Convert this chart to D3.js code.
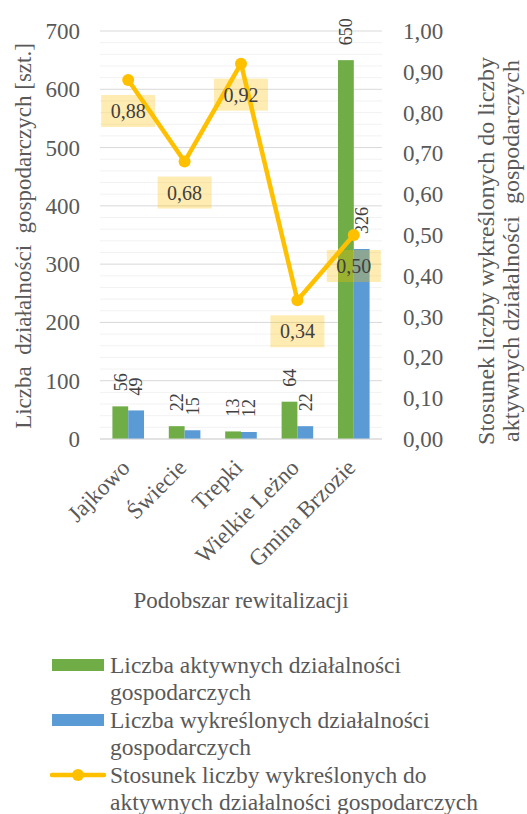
<!DOCTYPE html>
<html>
	<head>
		<meta charset="utf-8" />
		<script src="https://cdn.jsdelivr.net/npm/d3@7"></script>
		<style type="text/css">

html, body {
  margin: 0;
  padding: 0;
  background: #ffffff;
}

#chart text {
  font-family: "Liberation Serif", "Times New Roman", serif;
  fill: #595959;
}

#chart .grid-major {
  stroke: #d9d9d9;
  stroke-width: 1;
}

#chart .grid-minor {
  stroke: #f2f2f2;
  stroke-width: 1;
}
		</style>
	</head>

	<body>
		<div id="chart"></div>
		<script type="text/javascript">
var categories = ['Jajkowo', 'Świecie', 'Trepki', 'Wielkie Leżno', 'Gmina Brzozie'];
var active = [56, 22, 13, 64, 650];
var removed = [49, 15, 12, 22, 326];
var ratio = [0.88, 0.68, 0.92, 0.34, 0.50];

var leftTicks = [0, 100, 200, 300, 400, 500, 600, 700];
var rightTicks = [0, 0.1, 0.2, 0.3, 0.4, 0.5, 0.6, 0.7, 0.8, 0.9, 1.0];

var seriesNames = [
	'Liczba aktywnych działalności gospodarczych',
	'Liczba wykreślonych działalności gospodarczych',
	'Stosunek liczby wykreślonych do aktywnych działalności gospodarczych'
];

var green = '#70AD47', blue = '#5B9BD5', gold = '#FFC000';
var fmt = function(v) { return d3.format('.2f')(v).replace('.', ','); };

var width = 527, height = 814;
var plotLeft = 100, plotRight = 382, plotTop = 31, plotBottom = 439;
var fs = '23px';

var svg = d3.select('#chart').append('svg')
	.attr('width', width)
	.attr('height', height);

var x = d3.scaleBand().domain(categories).range([plotLeft, plotRight]).padding(0);
var groupW = x.bandwidth() * 0.56;
var x1 = d3.scaleBand().domain(['a', 'r']).range([0, groupW]);
var y = d3.scaleLinear().domain([0, 700]).range([plotBottom, plotTop]);
var y2 = d3.scaleLinear().domain([0, 1]).range([plotBottom, plotTop]);

// gridlines: minor every 20, major every 100
svg.append('g').selectAll('line')
	.data(d3.range(20, 700, 20).filter(function(v) { return v % 100 !== 0; }))
	.enter().append('line')
	.attr('class', 'grid-minor')
	.attr('x1', plotLeft).attr('x2', plotRight)
	.attr('y1', function(d) { return y(d); })
	.attr('y2', function(d) { return y(d); });

svg.append('g').selectAll('line')
	.data(leftTicks)
	.enter().append('line')
	.attr('class', 'grid-major')
	.attr('x1', plotLeft).attr('x2', plotRight)
	.attr('y1', function(d) { return y(d); })
	.attr('y2', function(d) { return y(d); });

// tick labels
svg.append('g').selectAll('text')
	.data(leftTicks)
	.enter().append('text')
	.attr('x', 80)
	.attr('y', function(d) { return y(d); })
	.attr('dy', '0.35em')
	.attr('text-anchor', 'end')
	.style('font-size', fs)
	.text(function(d) { return d; });

svg.append('g').selectAll('text')
	.data(rightTicks)
	.enter().append('text')
	.attr('x', 403)
	.attr('y', function(d) { return y2(d); })
	.attr('dy', '0.35em')
	.style('font-size', fs)
	.text(fmt);

// bars
var groups = svg.append('g').selectAll('g')
	.data(categories)
	.enter().append('g')
	.attr('transform', function(d) { return 'translate(' + (x(d) + (x.bandwidth() - groupW) / 2) + ',0)'; });

var barData = function(d, i) {
	return [
		{ key: 'a', value: active[i], color: green },
		{ key: 'r', value: removed[i], color: blue }
	];
};

groups.selectAll('rect')
	.data(barData)
	.enter().append('rect')
	.attr('x', function(d) { return x1(d.key); })
	.attr('y', function(d) { return y(d.value); })
	.attr('width', x1.bandwidth())
	.attr('height', function(d) { return plotBottom - y(d.value); })
	.attr('fill', function(d) { return d.color; });

groups.selectAll('text')
	.data(barData)
	.enter().append('text')
	.attr('transform', function(d) {
		return 'translate(' + (x1(d.key) + x1.bandwidth() / 2) + ',' + (y(d.value) - 15) + ') rotate(-90)';
	})
	.attr('dy', '0.35em')
	.style('font-size', '18px')
	.style('fill', '#404040')
	.text(function(d) { return d.value; });

// axis line
svg.append('line')
	.attr('x1', plotLeft).attr('x2', plotRight)
	.attr('y1', plotBottom).attr('y2', plotBottom)
	.attr('stroke', '#d9d9d9');

// ratio line
var cx = function(d, i) { return x(categories[i]) + x.bandwidth() / 2; };

svg.append('path')
	.datum(ratio)
	.attr('fill', 'none')
	.attr('stroke', gold)
	.attr('stroke-width', 4.5)
	.attr('stroke-linejoin', 'round')
	.attr('d', d3.line().x(cx).y(function(d) { return y2(d); }));

svg.append('g').selectAll('circle')
	.data(ratio)
	.enter().append('circle')
	.attr('cx', cx)
	.attr('cy', function(d) { return y2(d); })
	.attr('r', 6)
	.attr('fill', gold);

var lbl = svg.append('g').selectAll('g')
	.data(ratio)
	.enter().append('g')
	.attr('transform', function(d, i) { return 'translate(' + cx(d, i) + ',' + (y2(d) + 31) + ')'; });

lbl.append('rect')
	.attr('x', -27).attr('y', -16)
	.attr('width', 54).attr('height', 32)
	.attr('fill', gold)
	.attr('fill-opacity', 0.3);

lbl.append('text')
	.attr('text-anchor', 'middle')
	.attr('dy', '0.35em')
	.style('font-size', '20px')
	.style('fill', '#404040')
	.text(fmt);

// category labels
svg.append('g').selectAll('text')
	.data(categories)
	.enter().append('text')
	.attr('transform', function(d) { return 'translate(' + (x(d) + x.bandwidth() / 2 + 3) + ',469) rotate(-45)'; })
	.attr('text-anchor', 'end')
	.style('font-size', fs)
	.text(function(d) { return d; });

// axis titles
svg.append('text')
	.attr('x', (plotLeft + plotRight) / 2)
	.attr('y', 608)
	.attr('text-anchor', 'middle')
	.style('font-size', fs)
	.text('Podobszar rewitalizacji');

svg.append('text')
	.attr('transform', 'translate(31,236) rotate(-90)')
	.attr('text-anchor', 'middle')
	.style('font-size', fs)
	.style('white-space', 'pre')
	.text('Liczba  działalności  gospodarczych [szt.]');

var rTitle = ['Stosunek liczby wykreślonych do liczby', 'aktywnych działalności  gospodarczych'];
svg.append('g').selectAll('text')
	.data(rTitle)
	.enter().append('text')
	.attr('transform', function(d, i) { return 'translate(' + (494 + i * 25) + ',251) rotate(-90)'; })
	.attr('text-anchor', 'middle')
	.style('font-size', '24px')
	.style('white-space', 'pre')
	.text(function(d) { return d; });

// legend
var legendLines = [
	['Liczba aktywnych działalności', 'gospodarczych'],
	['Liczba wykreślonych działalności', 'gospodarczych'],
	['Stosunek liczby wykreślonych do', 'aktywnych działalności gospodarczych']
];
var legend = svg.append('g').selectAll('g')
	.data(seriesNames)
	.enter().append('g')
	.attr('transform', function(d, i) { return 'translate(0,' + (665 + i * 55) + ')'; });

legend.filter(function(d, i) { return i < 2; })
	.append('rect')
	.attr('x', 52).attr('y', -6)
	.attr('width', 52).attr('height', 12)
	.attr('fill', function(d, i) { return i === 0 ? green : blue; });

var lineEntry = legend.filter(function(d, i) { return i === 2; });
lineEntry.append('line')
	.attr('x1', 52).attr('x2', 104)
	.attr('stroke', gold)
	.attr('stroke-width', 4.5)
	.attr('stroke-linecap', 'round');
lineEntry.append('circle')
	.attr('cx', 78)
	.attr('r', 6)
	.attr('fill', gold);

legend.selectAll('text')
	.data(function(d, i) { return legendLines[i]; })
	.enter().append('text')
	.attr('x', 110)
	.attr('y', function(d, j) { return 8 + j * 27; })
	.style('font-size', '23.5px')
	.text(function(d) { return d; });
    </script>
  </body>
</html>
